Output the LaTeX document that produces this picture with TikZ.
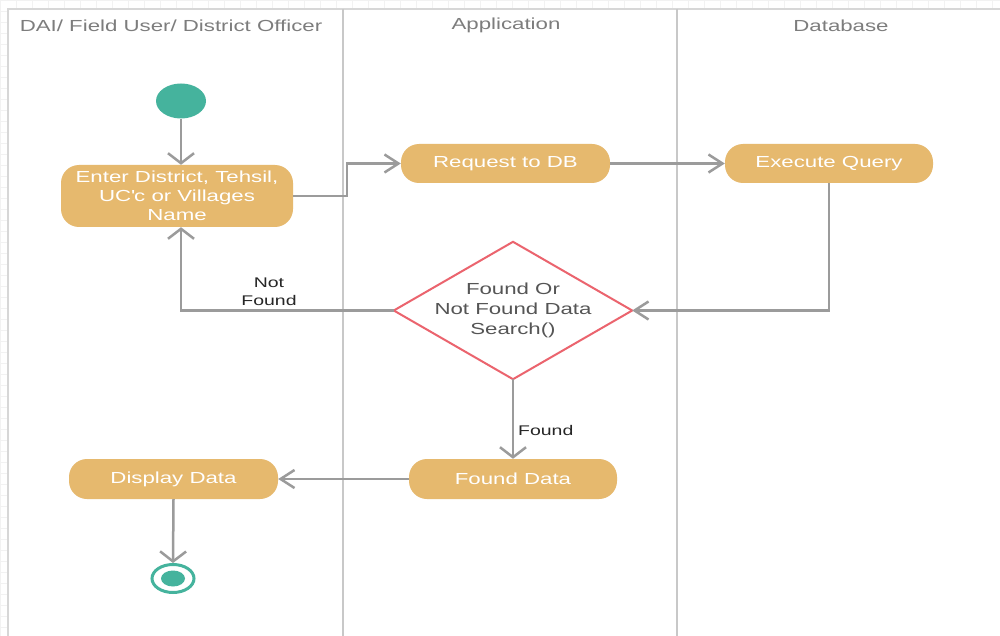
\documentclass[tikz,border=0pt]{standalone}
\usepackage{fontspec}
\setmainfont{Liberation Sans}[FakeStretch=1.39]
\usetikzlibrary{arrows.meta,shapes.geometric}

\definecolor{actfill}{RGB}{230,185,110}
\definecolor{teal}{RGB}{69,179,157}
\definecolor{decred}{RGB}{235,100,110}
\definecolor{flowgray}{RGB}{155,155,155}
\definecolor{titlegray}{RGB}{125,125,125}
\definecolor{dectext}{RGB}{85,85,85}
\definecolor{gridgray}{RGB}{242,242,242}
\definecolor{framegray}{RGB}{215,215,215}
\definecolor{lanegray}{RGB}{200,200,200}

\tikzset{
  gridline/.style={draw=gridgray, line width=0.8pt},
  frameline/.style={draw=framegray, line width=2pt},
  laneline/.style={draw=lanegray, line width=1.4pt},
  title/.style={text=titlegray, font=\fontsize{16}{19}\selectfont, inner sep=0pt},
  act/.style={rectangle, rounded corners=18pt, fill=actfill, text=white,
    font=\fontsize{16}{19}\selectfont, align=center, inner sep=0pt},
  decision/.style={rectangle, text=dectext, font=\fontsize{16}{20}\selectfont,
    align=center, inner sep=0pt, minimum width=238pt, minimum height=137pt},
  decoutline/.style={draw=decred, line width=2pt, fill=white, line join=miter},
  startnode/.style={ellipse, fill=teal, inner sep=0pt,
    minimum width=50pt, minimum height=35pt},
  endnode/.style={ellipse, draw=teal, line width=3pt, fill=white, inner sep=0pt,
    minimum width=42pt, minimum height=28pt},
  lbl/.style={text=black!85, font=\fontsize{14}{18}\selectfont, inner sep=0pt},
  flow/.style={draw=flowgray, line width=2.5pt},
  vflow/.style={flow, -{Straight Barb[length=10pt,width=26pt]}},
  hflow/.style={flow, -{Straight Barb[length=14pt,width=18pt]}},
}

\begin{document}
\begin{tikzpicture}[x=1pt,y=-1pt]
\useasboundingbox (0,0) rectangle (1000,636);

% faint canvas grid and the swimlane sheet on top of it
\foreach \i in {0,16,...,992} \draw[gridline] (\i,0) -- (\i,636);
\foreach \j in {0,11,...,630} \draw[gridline] (0,\j) -- (1000,\j);
\fill[white] (8,9) rectangle (1000,636);
\draw[frameline] (8,636) -- (8,9) -- (1000,9);
\draw[laneline] (343,9) -- (343,636);
\draw[laneline] (677,9) -- (677,636);

% lane titles
\node[title] (laneuser) at (171,25.5) {DAI/ Field User/ District Officer};
\node[title] (laneapp) at (506,25.5) {Application};
\node[title] (lanedb) at (841,25.5) {Database};

% activities
\node[startnode] (start) at (181,101) {};
\node[act, minimum width=232pt, minimum height=62pt] (enter) at (177,196)
  {Enter District, Tehsil,\\UC\textquotesingle c or Villages\\Name};
\node[act, minimum width=209pt, minimum height=39pt] (req) at (505.5,163.5) {Request to DB};
\node[act, minimum width=208pt, minimum height=39pt] (exec) at (829,163.5) {Execute Query};

% decision: the diamond runs through the four side anchors of its box
\node[decision] (dec) at (513,310.5) {};
\path[decoutline] (dec.north) -- (dec.east) -- (dec.south) -- (dec.west) -- cycle;
\node[decision] (dectext) at (dec.center) {Found Or\\Not Found Data\\Search()};

\node[act, minimum width=208pt, minimum height=40pt] (found) at (513,479) {Found Data};
\node[act, minimum width=209pt, minimum height=40pt] (disp) at (173.5,479) {Display Data};
\node[endnode] (end) at (173,578.5) {};
\fill[teal] (end.center) ellipse [x radius=12pt, y radius=8pt];

% flows
\draw[vflow] (start.south) -- (start.south |- enter.north);
\draw[hflow] (enter.east) -- ++(54,0) |- (req.west);
\draw[hflow] (req.east) -- (exec.west);
\draw[hflow] (exec.south) |- (dec.east);
\draw[vflow] (dec.west) -| (start.south |- enter.south);
\draw[vflow] (dec.south) -- (found.north);
\draw[hflow] (found.west) -- (disp.east);
\draw[vflow] (disp.south) -- (end.north);

% guard labels
\node[lbl, align=center] (lblnotfound) at (269,292) {Not\\Found};
\node[lbl, anchor=west] (lblfound) at (518,430) {Found};
\end{tikzpicture}
\end{document}
